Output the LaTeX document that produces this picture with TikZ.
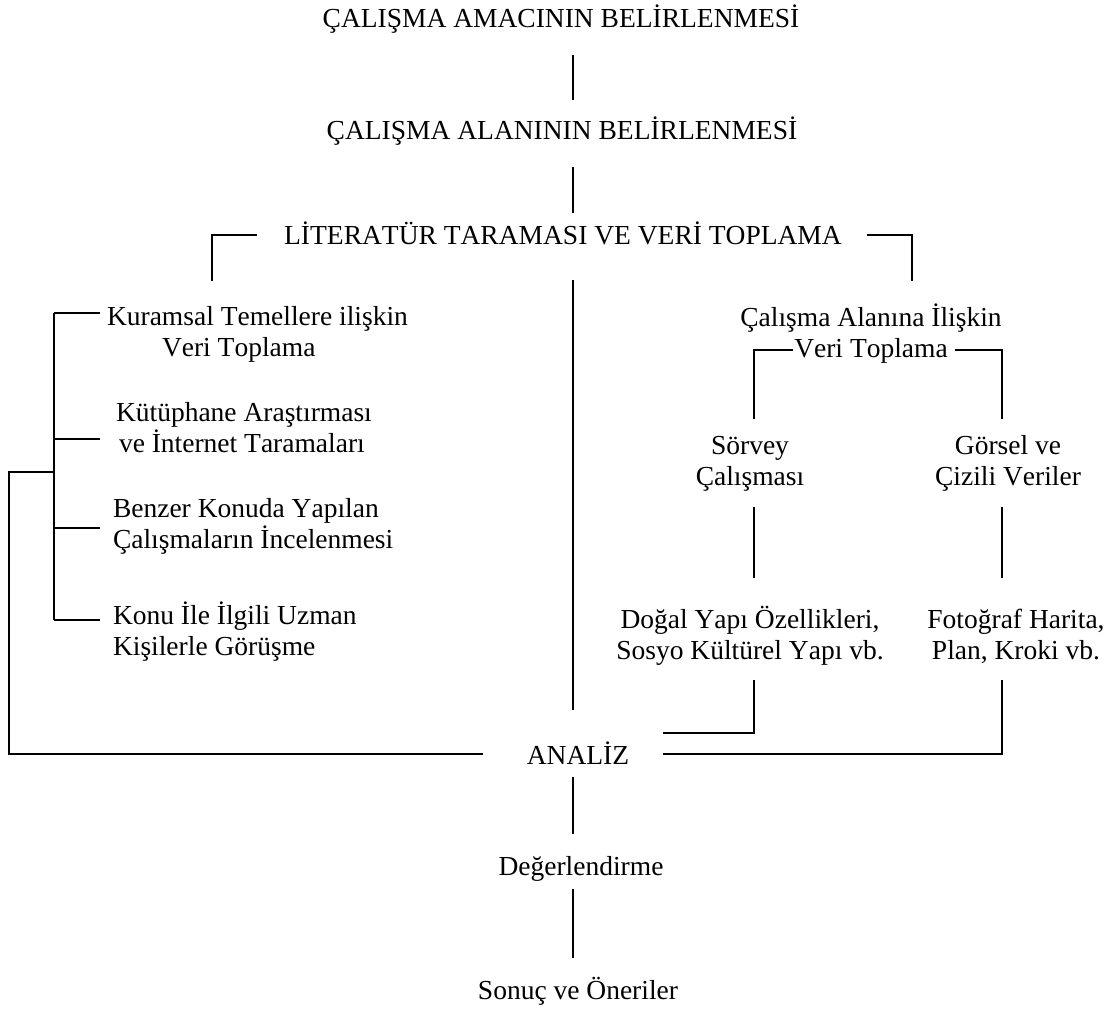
\documentclass[tikz,border=0pt]{standalone}
\usepackage{fontspec}
\setmainfont{Liberation Serif}[Kerning=Off]
\begin{document}
\begin{tikzpicture}[x=1pt,y=-1pt,
  txt/.style={inner sep=0pt,outer sep=0pt,font=\fontsize{27.5pt}{31pt}\selectfont},
  ln/.style={line width=1.6pt,line cap=butt}]
\useasboundingbox (0,0) rectangle (1112,1011);
% main column
\node[txt,anchor=base] (t1) at (561,28) {ÇALIŞMA AMACININ BELİRLENMESİ};
\node[txt,anchor=base] (t2) at (562,140) {ÇALIŞMA ALANININ BELİRLENMESİ};
\node[txt,anchor=base] (lit) at (563,245) {LİTERATÜR TARAMASI VE VERİ TOPLAMA};
\node[txt,anchor=base] (an) at (578,764) {ANALİZ};
\node[txt,anchor=base] (deg) at (581,875) {Değerlendirme};
\node[txt,anchor=base] (son) at (578,999) {Sonuç ve Öneriler};
% left column (base anchor = baseline of last line)
\node[txt,anchor=base west,align=left] (k1) at (107,356) {Kuramsal Temellere ilişkin\\\hspace*{55pt}Veri Toplama};
\node[txt,anchor=base west,align=left] (k2) at (116,452) {Kütüphane Araştırması\\\hspace*{3pt}ve İnternet Taramaları};
\node[txt,anchor=base west,align=left] (k3) at (113,548) {Benzer Konuda Yapılan\\Çalışmaların İncelenmesi};
\node[txt,anchor=base west,align=left] (k4) at (113,655) {Konu İle İlgili Uzman\\Kişilerle Görüşme};
% right column
\node[txt,anchor=base,align=center] (r0) at (871,357) {Çalışma Alanına İlişkin\\Veri Toplama};
\node[txt,anchor=base,align=center] (r1) at (750,485) {Sörvey\\Çalışması};
\node[txt,anchor=base,align=center] (r2) at (1008,485) {Görsel ve\\Çizili Veriler};
\node[txt,anchor=base,align=center] (r3) at (750,659) {Doğal Yapı Özellikleri,\\Sosyo Kültürel Yapı vb.};
\node[txt,anchor=base,align=center] (r4) at (1016,659) {Fotoğraf Harita,\\Plan, Kroki vb.};
% connector end points
\coordinate (a1) at (573,55);  \coordinate (a2) at (573,100);
\coordinate (b1) at (573,167); \coordinate (b2) at (573,213);
\coordinate (c1) at (573,280); \coordinate (c2) at (573,710);
\coordinate (d1) at (573,777); \coordinate (d2) at (573,834);
\coordinate (e1) at (573,889); \coordinate (e2) at (573,958);
% main vertical connectors
\draw[ln] (a1) -- (a2);
\draw[ln] (b1) -- (b2);
\draw[ln] (c1) -- (c2);
\draw[ln] (d1) -- (d2);
\draw[ln] (e1) -- (e2);
% literature brackets
\draw[ln] (257,235) -- (212,235) -- (212,281);
\draw[ln] (867,235) -- (912,235) -- (912,281);
% left spine
\draw[ln] (54,313) -- (54,620);
\draw[ln] (54,313) -- (100,313);
\draw[ln] (54,439) -- (100,439);
\draw[ln] (54,528) -- (100,528);
\draw[ln] (54,620) -- (100,620);
\draw[ln] (54,472) -- (9,472) -- (9,754) -- (483,754);
% right tree
\draw[ln] (793,350) -- (754,350) -- (754,419);
\draw[ln] (955,350) -- (1002,350) -- (1002,419);
\draw[ln] (754,507) -- (754,578);
\draw[ln] (1002,507) -- (1002,578);
\draw[ln] (754,680) -- (754,733) -- (663,733);
\draw[ln] (1002,680) -- (1002,754) -- (663,754);
\end{tikzpicture}
\end{document}
